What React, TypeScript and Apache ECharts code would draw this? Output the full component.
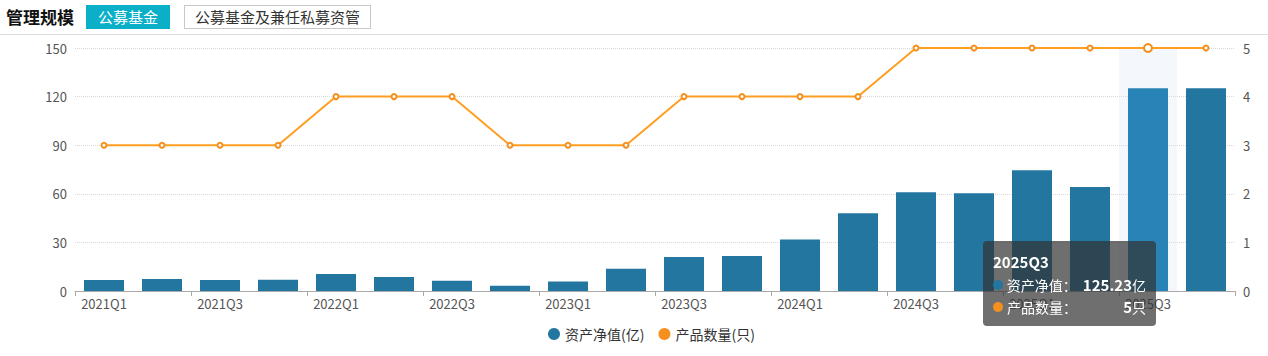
import React, { useEffect, useRef } from "react";
import * as echarts from "echarts";

const categories = [
  "2021Q1", "2021Q2", "2021Q3", "2021Q4",
  "2022Q1", "2022Q2", "2022Q3", "2022Q4",
  "2023Q1", "2023Q2", "2023Q3", "2023Q4",
  "2024Q1", "2024Q2", "2024Q3", "2024Q4",
  "2025Q1", "2025Q2", "2025Q3", "2025Q4",
];
const netAssets = [
  6.8, 7.4, 6.8, 7.0, 10.5, 8.6, 6.4, 3.3, 5.8, 13.8,
  21.0, 21.6, 31.8, 48.0, 61.0, 60.3, 74.5, 64.2, 125.23, 125.2,
];
const productCount = [3, 3, 3, 3, 4, 4, 4, 3, 3, 3, 4, 4, 4, 4, 5, 5, 5, 5, 5, 5];
const leftTicks = { min: 0, max: 150, interval: 30 };
const rightTicks = { min: 0, max: 5, interval: 1 };
const tabs = ["公募基金", "公募基金及兼任私募资管"];
const shownIndex = 18;

const FONT = "'Noto Sans CJK SC', 'Noto Sans', sans-serif";

export default function App() {
  const ref = useRef<HTMLDivElement>(null);

  useEffect(() => {
    document.body.style.margin = "0";
    const chart = echarts.init(ref.current!, undefined, { renderer: "svg" });
    chart.setOption({
      animation: false,
      textStyle: { fontFamily: FONT },
      grid: { left: 75, right: 33, top: 48, bottom: 65 },
      legend: {
        bottom: 10,
        left: 543,
        icon: "circle",
        itemWidth: 12,
        itemHeight: 12,
        itemGap: 14,
        textStyle: { fontSize: 14, color: "#333", fontFamily: FONT },
        data: ["资产净值(亿)", "产品数量(只)"],
      },
      tooltip: {
        trigger: "axis",
        alwaysShowContent: true,
        axisPointer: {
          type: "shadow",
          z: 1,
          shadowStyle: { color: "rgba(220,228,245,0.3)" },
        },
        backgroundColor: "rgba(50,50,50,0.7)",
        borderWidth: 0,
        padding: [10, 10, 8, 10],
        extraCssText: "border-radius:4px;box-shadow:none;",
        textStyle: { color: "#fff", fontSize: 14, fontFamily: FONT },
        position: () => [983, 241],
        formatter: (params: any) => {
          const p = params as any[];
          const dot = (c: string) =>
            `<span style="display:inline-block;width:10px;height:10px;border-radius:5px;background:${c};margin-right:4px;vertical-align:middle"></span>`;
          const row = (c: string, name: string, val: string, unit: string) =>
            `<div style="display:flex;align-items:center;line-height:22px">${dot(c)}<span>${name}：</span><span style="margin-left:auto;padding-left:6px"><b style="font-size:15px">${val}</b>${unit}</span></div>`;
          let s = `<div style="font-weight:bold;font-size:15px;line-height:22px;margin-bottom:1px">${p[0].axisValue}</div>`;
          p.forEach((it: any) => {
            if (it.seriesIndex === 0) s += row(it.color, "资产净值", String(it.value), "亿");
            else s += row(it.color, "产品数量", String(it.value), "只");
          });
          return `<div style="width:153px">${s}</div>`;
        },
      },
      xAxis: {
        type: "category",
        data: categories,
        boundaryGap: true,
        axisLine: { lineStyle: { color: "#aaa" } },
        axisTick: { show: true, length: 5, lineStyle: { color: "#aaa" } },
        axisLabel: { interval: 1, color: "#555", fontSize: 13, margin: 6, fontFamily: FONT },
      },
      yAxis: [
        {
          type: "value",
          ...leftTicks,
          axisLine: { show: false },
          axisTick: { show: false },
          axisLabel: { color: "#555", fontSize: 13, margin: 8, fontFamily: FONT },
          splitLine: { lineStyle: { type: "dotted", color: "#d8d8d8" } },
        },
        {
          type: "value",
          ...rightTicks,
          axisLine: { show: false },
          axisTick: { show: false },
          axisLabel: { color: "#555", fontSize: 13, margin: 8, fontFamily: FONT },
          splitLine: { show: false },
        },
      ],
      series: [
        {
          name: "资产净值(亿)",
          type: "bar",
          z: 2,
          data: netAssets,
          barWidth: "69%",
          itemStyle: { color: "#2276a0" },
          emphasis: { itemStyle: { color: "#2884b6" } },
        },
        {
          name: "产品数量(只)",
          type: "line",
          z: 3,
          yAxisIndex: 1,
          data: productCount,
          symbol: "emptyCircle",
          symbolSize: 5,
          lineStyle: { color: "#f5901e", width: 2 },
          itemStyle: { color: "#f5901e", borderWidth: 1.5 },
          emphasis: { scale: 1.6 },
        },
      ],
    });
    chart.dispatchAction({ type: "showTip", seriesIndex: 0, dataIndex: shownIndex });
    return () => chart.dispose();
  }, []);

  return (
    <div style={{ position: "relative", width: 1268, height: 356, fontFamily: FONT, background: "#fff" }}>
      <div ref={ref} style={{ position: "absolute", left: 0, top: 0, width: 1268, height: 356 }} />
      <div
        style={{
          position: "absolute", left: 6, top: 4, height: 26, lineHeight: "26px",
          fontSize: 17, fontWeight: "bold", color: "#111",
        }}
      >
        管理规模
      </div>
      <div
        style={{
          position: "absolute", left: 86, top: 5, width: 84, height: 24, lineHeight: "24px",
          background: "#0bb0c8", color: "#fff", fontSize: 15, textAlign: "center",
        }}
      >
        {tabs[0]}
      </div>
      <div
        style={{
          position: "absolute", left: 184, top: 5, width: 185, height: 22, lineHeight: "22px",
          border: "1px solid #c8c8c8", color: "#333", fontSize: 15, textAlign: "center",
        }}
      >
        {tabs[1]}
      </div>
      <div style={{ position: "absolute", left: 0, top: 34, width: 1268, height: 1, background: "#dcdcdc" }} />
    </div>
  );
}
